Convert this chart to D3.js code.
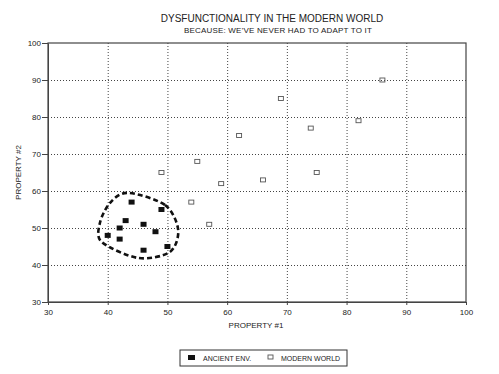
<!DOCTYPE html>
<html>
<head>
<meta charset="utf-8">
<script src="https://cdn.jsdelivr.net/npm/d3@7"></script>
<style>
  body { margin: 0; background: #fff; }
  svg text { font-family: "Liberation Sans", Arial, sans-serif; fill: #222; }
  .grid line { stroke: #444; stroke-dasharray: 1,2; }
  .grid path { display: none; }
  .axis path, .axis line { stroke: #444; }
</style>
</head>
<body>
<svg width="499" height="374"></svg>
<script>
'use strict'

// chart data
const ancientX = [44, 49, 43, 46, 42, 48, 40, 42, 46, 50]
const ancientY = [57, 55, 52, 51, 50, 49, 48, 47, 44, 45]
const modernX = [49, 54, 55, 57, 59, 62, 66, 69, 74, 75, 82, 86]
const modernY = [65, 57, 68, 51, 62, 75, 63, 85, 77, 65, 79, 90]
const outlineX = [43.4, 49.6, 51.8, 50.4, 45.1, 39.0, 38.7, 40.4]
const outlineY = [59.5, 56.2, 49.5, 43.5, 41.9, 46.2, 51.4, 56.8]
const xTicks = [30, 40, 50, 60, 70, 80, 90, 100]
const yTicks = [30, 40, 50, 60, 70, 80, 90, 100]

const svg = d3.select('svg')
const plotLeft = 48, plotRight = 466, plotTop = 43, plotBottom = 302
const width = plotRight - plotLeft
const height = plotBottom - plotTop

const x = d3.scaleLinear().domain([30, 100]).range([plotLeft, plotRight])
const y = d3.scaleLinear().domain([30, 100]).range([plotBottom, plotTop])

// grid
svg.append('g')
    .attr('class', 'grid')
    .attr('transform', `translate(0, ${plotBottom})`)
    .call(d3.axisBottom(x).tickValues(xTicks.slice(1, -1)).tickSize(-height).tickFormat(''))
svg.append('g')
    .attr('class', 'grid')
    .attr('transform', `translate(${plotLeft}, 0)`)
    .call(d3.axisLeft(y).tickValues(yTicks.slice(1, -1)).tickSize(-width).tickFormat(''))

// frame
svg.append('rect')
    .attr('x', plotLeft).attr('y', plotTop)
    .attr('width', width).attr('height', height)
    .attr('fill', 'none').attr('stroke', '#444').attr('stroke-width', 1.2)

const xAxis = svg.append('g')
    .attr('class', 'axis')
    .attr('transform', `translate(0, ${plotBottom})`)
    .call(d3.axisBottom(x).tickValues(xTicks).tickSize(3).tickSizeOuter(0))
xAxis.selectAll('text').attr('font-size', 8).attr('dy', '0.9em')

const yAxis = svg.append('g')
    .attr('class', 'axis')
    .attr('transform', `translate(${plotLeft}, 0)`)
    .call(d3.axisLeft(y).tickValues(yTicks).tickSize(6).tickSizeOuter(0))
yAxis.selectAll('text').attr('font-size', 8).attr('x', -7)

// outline around ancient cluster
const outline = outlineX.map((v, i) => [v, outlineY[i]])
svg.append('path')
    .datum(outline)
    .attr('d', d3.line().x(d => x(d[0])).y(d => y(d[1])).curve(d3.curveCardinalClosed.tension(0.1)))
    .attr('fill', 'none')
    .attr('stroke', '#111')
    .attr('stroke-width', 2.6)
    .attr('stroke-dasharray', '5,3')

// points
svg.append('g').selectAll('rect')
    .data(ancientX.map((v, i) => [v, ancientY[i]]))
    .enter().append('rect')
    .attr('x', d => x(d[0]) - 3)
    .attr('y', d => y(d[1]) - 2.5)
    .attr('width', 6).attr('height', 5)
    .attr('fill', '#111')

svg.append('g').selectAll('rect')
    .data(modernX.map((v, i) => [v, modernY[i]]))
    .enter().append('rect')
    .attr('x', d => x(d[0]) - 2.5)
    .attr('y', d => y(d[1]) - 2)
    .attr('width', 5).attr('height', 4)
    .attr('fill', 'none')
    .attr('stroke', '#555')
    .attr('stroke-width', 0.9)

// titles
svg.append('text')
    .attr('x', 272).attr('y', 22)
    .attr('text-anchor', 'middle')
    .attr('font-size', 10)
    .text('DYSFUNCTIONALITY IN THE MODERN WORLD')
svg.append('text')
    .attr('x', 278).attr('y', 33)
    .attr('text-anchor', 'middle')
    .attr('font-size', 8)
    .attr('letter-spacing', 0.2)
    .text("BECAUSE: WE'VE NEVER HAD TO ADAPT TO IT")

svg.append('text')
    .attr('x', 256).attr('y', 328)
    .attr('text-anchor', 'middle')
    .attr('font-size', 8)
    .text('PROPERTY #1')
svg.append('text')
    .attr('transform', `translate(21, ${(plotTop + plotBottom) / 2}) rotate(-90)`)
    .attr('text-anchor', 'middle')
    .attr('font-size', 8)
    .text('PROPERTY #2')

// legend
const legend = svg.append('g')
legend.append('rect')
    .attr('x', 180).attr('y', 350)
    .attr('width', 167).attr('height', 16)
    .attr('fill', 'none').attr('stroke', '#333')
legend.append('rect')
    .attr('x', 188).attr('y', 355).attr('width', 7).attr('height', 5)
    .attr('fill', '#111')
legend.append('text')
    .attr('x', 203).attr('y', 361)
    .attr('font-size', 7)
    .text('ANCIENT ENV.')
legend.append('rect')
    .attr('x', 268).attr('y', 355).attr('width', 5).attr('height', 4)
    .attr('fill', 'none').attr('stroke', '#555').attr('stroke-width', 0.9)
legend.append('text')
    .attr('x', 281).attr('y', 361)
    .attr('font-size', 7)
    .text('MODERN WORLD')
</script>
</body>
</html>
